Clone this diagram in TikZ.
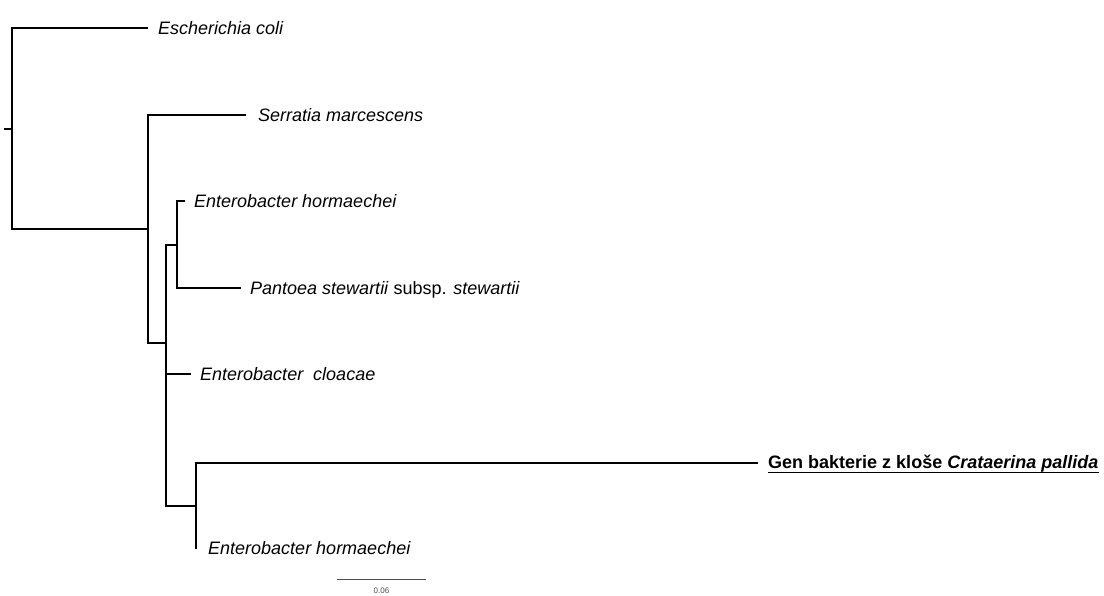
\documentclass[tikz,border=0pt]{standalone}
\usepackage{fontspec}
\setmainfont{Liberation Sans}
\begin{document}
\begin{tikzpicture}[x=1pt,y=-1pt,
  branch/.style={line width=1.6pt,line join=miter,line cap=rect},
  taxon/.style={anchor=base west,inner sep=0pt,font=\fontsize{18}{20}\selectfont},
  scalelbl/.style={inner sep=0pt,font=\fontsize{8}{9}\selectfont,text=black!70}]
\useasboundingbox (0,0) rectangle (1104,595);

% internal nodes
\coordinate (r0) at (5,129);
\coordinate (n1) at (12,129);
\coordinate (n2) at (148,229);
\coordinate (n3) at (166,343);
\coordinate (n4) at (177,245);
\coordinate (n5) at (196,506);

% branch tips
\coordinate (tEc) at (147,28);
\coordinate (tSm) at (245,115);
\coordinate (tEh1) at (184,201);
\coordinate (tPs) at (240,288);
\coordinate (tEcl) at (190,374);
\coordinate (tGen) at (757,463);
\coordinate (tEh2) at (196,548);

% tree
\draw[branch] (r0) -- (n1);
\draw[branch] (tEc) -| (n1) |- (n2);
\draw[branch] (tSm) -| (n2) |- (n3);
\draw[branch] (tEh1) -| (n4) |- (tPs);
\draw[branch] (n3) |- (n4);
\draw[branch] (n3) |- (tEcl);
\draw[branch] (n3) |- (n5);
\draw[branch] (tGen) -| (n5) -- (tEh2);

% taxon labels
\node[taxon] (lEc) at (158,34) {\itshape Escherichia coli};
\node[taxon] (lSm) at (258,121) {\itshape Serratia marcescens};
\node[taxon] (lEh1) at (194,207) {\itshape Enterobacter hormaechei};
\node[taxon] (lPs) at (250,294) {\textit{Pantoea stewartii} subsp. \textit{stewartii}};
\node[taxon] (lEcl) at (200,380) {\itshape Enterobacter~~cloacae};
\node[taxon] (lGen) at (768,468) {\bfseries Gen bakterie z kloše \textit{Crataerina pallida}};
\draw[line width=1.8pt] ([yshift=-4.5pt]lGen.base west) -- ([yshift=-4.5pt]lGen.base east);
\node[taxon] (lEh2) at (208,554) {\itshape Enterobacter hormaechei};

% scale bar
\coordinate (sb0) at (337,579);
\coordinate (sb1) at (426,579);
\draw[line width=0.8pt,black!70] (sb0) -- (sb1);
\node[scalelbl,anchor=base] (sbl) at (381.5,593) {0.06};
\end{tikzpicture}
\end{document}
